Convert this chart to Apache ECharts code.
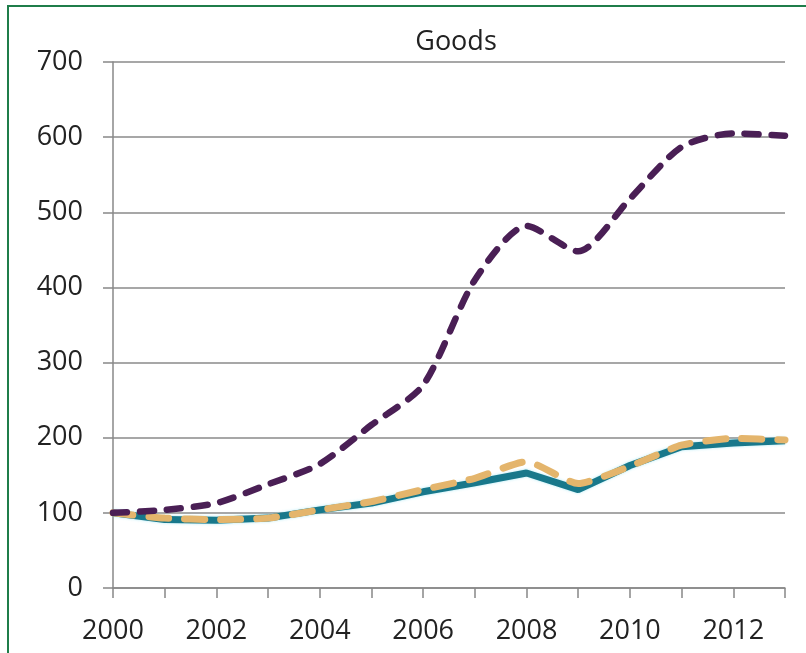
<!DOCTYPE html>
<html>
<head>
<meta charset="utf-8">
<script src="https://cdn.jsdelivr.net/npm/echarts@6/dist/echarts.min.js"></script>
<style>
  html, body { margin: 0; padding: 0; background: #fff; overflow: hidden; }
  #main { width: 806px; height: 653px; }
  #frame { position: absolute; left: 7px; top: 5px; width: 900px; height: 800px;
           border-left: 2px solid #1f7d4a; border-top: 2px solid #1f7d4a; pointer-events: none; }
</style>
</head>
<body>
<div id="main"></div>
<div id="frame"></div>
<script>
var years = ['2000','2001','2002','2003','2004','2005','2006','2007','2008','2009','2010','2011','2012','2013'];
var purpleValues = [100, 104, 113, 138, 165, 217, 270, 410, 482, 448, 518, 587, 605, 602];
var tealValues = [100, 91, 90, 93, 104, 113, 128, 140, 153, 131, 163, 188, 193, 196];
var tanValues = [100, 93, 91, 93, 104, 115, 131, 146, 168, 139, 162, 190, 199, 197];
var yTicks = [0, 100, 200, 300, 400, 500, 600, 700];

var font = '"Open Sans", sans-serif';
var myChart = echarts.init(document.getElementById('main'));
var option = {
  animation: false,
  title: {
    text: 'Goods',
    left: 451,
    top: 24,
    textAlign: 'center',
    textStyle: { fontFamily: font, fontSize: 27, fontWeight: 'normal', color: '#222' }
  },
  grid: { left: 113, right: 21, top: 62, bottom: 65 },
  xAxis: {
    type: 'category',
    data: years,
    boundaryGap: false,
    axisLine: { lineStyle: { color: '#888', width: 1.5 } },
    axisTick: { show: true, interval: 0, length: 10, lineStyle: { color: '#888', width: 1.5 } },
    axisLabel: { interval: 1, margin: 30, fontFamily: font, fontSize: 27, color: '#222' },
    splitLine: { show: false }
  },
  yAxis: {
    type: 'value',
    min: yTicks[0],
    max: yTicks[yTicks.length - 1],
    interval: 100,
    axisLine: { show: true, lineStyle: { color: '#888', width: 1.5 } },
    axisTick: { show: true, length: 10, lineStyle: { color: '#888', width: 1.5 } },
    axisLabel: { margin: 30, fontFamily: font, fontSize: 27, color: '#222' },
    splitLine: { lineStyle: { color: '#8a8a8a', width: 1.5 } }
  },
  series: [
    {
      name: 'teal',
      type: 'line',
      data: tealValues,
      symbol: 'none',
      lineStyle: { color: '#18788b', width: 7, shadowColor: 'rgba(120,220,240,0.6)', shadowBlur: 3 },
      z: 2
    },
    {
      name: 'tan',
      type: 'line',
      data: tanValues,
      symbol: 'none',
      smooth: 0.2,
      lineStyle: { color: '#e4b56c', width: 7, type: [20, 16], cap: 'round' },
      z: 3
    },
    {
      name: 'purple',
      type: 'line',
      data: purpleValues,
      symbol: 'none',
      smooth: 0.25,
      lineStyle: { color: '#4a1f55', width: 6.5, type: [14, 13], cap: 'round' },
      z: 4
    }
  ]
};
myChart.setOption(option);
</script>
</body>
</html>
